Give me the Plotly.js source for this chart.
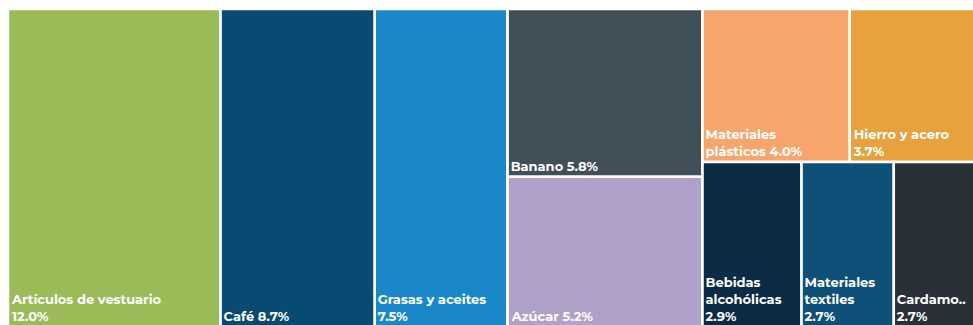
<!DOCTYPE html>
<html>
<head>
<meta charset="utf-8">
<script src="https://cdn.plot.ly/plotly-3.0.1.min.js"></script>
<style>
  html, body { margin: 0; padding: 0; overflow: hidden; background: #ffffff; }
  #chart { width: 990px; height: 327px; }
</style>
</head>
<body>
<div id="chart"></div>
<script>
// ---- data ----
const categories = ["Artículos de vestuario", "Café", "Grasas y aceites", "Banano", "Azúcar",
  "Materiales plásticos", "Hierro y acero", "Bebidas alcohólicas", "Materiales textiles", "Cardamomo"];
const shares = [12.0, 8.7, 7.5, 5.8, 5.2, 4.0, 3.7, 2.9, 2.7, 2.7];
const displayNames = ["Artículos de vestuario<br>", "Café ", "Grasas y aceites<br>", "Banano ", "Azúcar ",
  "Materiales<br>plásticos ", "Hierro y acero<br>", "Bebidas<br>alcohólicas<br>", "Materiales<br>textiles<br>", "Cardamo..<br>"];
const groupOf = ["", "", "", "g1", "g1", "g2a", "g2a", "g2b", "g2b", "g2b"];
const groups = ["g1", "g2", "g2a", "g2b"];
const groupParents = ["", "", "g2", "g2"];
const colors = ["#9BBB59", "#084A72", "#1A88C8", "#414F59", "#B0A1C9",
  "#F6A66B", "#E8A23D", "#0C2B44", "#0F5079", "#2A3038"];

// ---- build hierarchy ----
const ids = categories.concat(groups);
const parents = groupOf.concat(groupParents);
const values = shares.concat(groups.map(() => 0));
const texts = displayNames.concat(groups.map(() => ""));
const templates = shares.map(() => "%{text}%{value:.1f}%").concat(groups.map(() => " "));
const markerColors = colors.concat(groups.map(() => "#ffffff"));

const trace = {
  type: "treemap",
  ids: ids,
  labels: ids,
  parents: parents,
  values: values,
  text: texts,
  texttemplate: templates,
  textposition: "bottom left",
  textfont: { family: "Montserrat, 'Open Sans', sans-serif", size: 13, color: "#ffffff", weight: "bold" },
  sort: false,
  branchvalues: "remainder",
  tiling: { packing: "slice-dice", pad: 0 },
  marker: { colors: markerColors, line: { color: "#ffffff", width: 2.5 }, pad: { t: 0, l: 0, r: 0, b: 0 } },
  pathbar: { visible: false },
  hoverinfo: "skip"
};

const layout = {
  width: 990,
  height: 327,
  margin: { l: 8, r: 4, t: 9, b: 0 },
  paper_bgcolor: "#ffffff",
  uniformtext: { mode: "show", minsize: 13 },
  showlegend: false
};

Plotly.newPlot("chart", [trace], layout, { displayModeBar: false, staticPlot: true });
</script>
</body>
</html>
